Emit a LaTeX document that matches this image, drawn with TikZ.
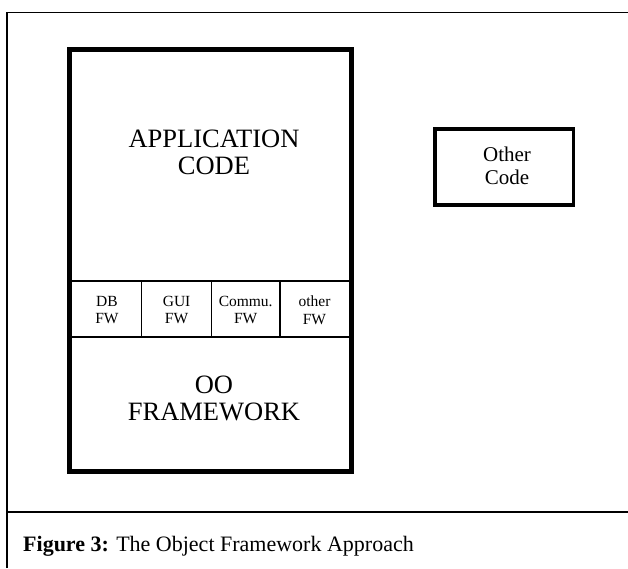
\documentclass[tikz,border=0pt]{standalone}
\usepackage{fontspec}
\setmainfont{Liberation Serif}
\begin{document}
\begin{tikzpicture}[x=1pt,y=-1pt,
  thickbox/.style={draw=black,line width=5pt},
  otherbox/.style={draw=black,line width=3.5pt},
  thinline/.style={draw=black,line width=1.5pt},
  bigtext/.style={align=center,font={\fontsize{26.5}{27}\selectfont}},
  smalltext/.style={align=center,font={\fontsize{15.5}{17.5}\selectfont}},
  midtext/.style={align=center,font={\fontsize{21}{23.5}\selectfont}},
  captext/.style={anchor=base west,inner sep=0pt,font={\fontsize{22}{24}\selectfont}}]
\useasboundingbox (0,0) rectangle (628,568);
% outer frame
\draw[line width=1.5pt] (7,568) -- (7,12.5) -- (628,12.5);
\draw[line width=1.5pt] (7,512) -- (628,512);
% framework row
\draw[thinline] (72,281) -- (349,281);
\draw[thinline] (72,337) -- (349,337);
\draw[thinline] (141.7,281) -- (141.7,337);
\draw[thinline] (211.5,281) -- (211.5,337);
\draw[thinline] (280,281) -- (280,337);
% main box
\draw[thickbox] (69.5,49.5) rectangle (351.5,471.5);
% other code box
\draw[otherbox] (435,129) rectangle (573.5,205);
% texts
\node[bigtext] (app) at (214,152) {APPLICATION\\CODE};
\node[bigtext] (oo) at (214,398) {OO\\FRAMEWORK};
\node[smalltext] (db) at (107,310) {DB\\FW};
\node[smalltext] (gui) at (176.6,310) {GUI\\FW};
\node[smalltext] (comm) at (245.7,310) {Commu.\\FW};
\node[smalltext] (oth) at (314.5,310) {other\\FW};
\node[midtext] (other) at (507,166) {Other\\Code};
\node[captext] (cap) at (23,551.7) {\textbf{Figure 3:} The Object Framework Approach};
\end{tikzpicture}
\end{document}
